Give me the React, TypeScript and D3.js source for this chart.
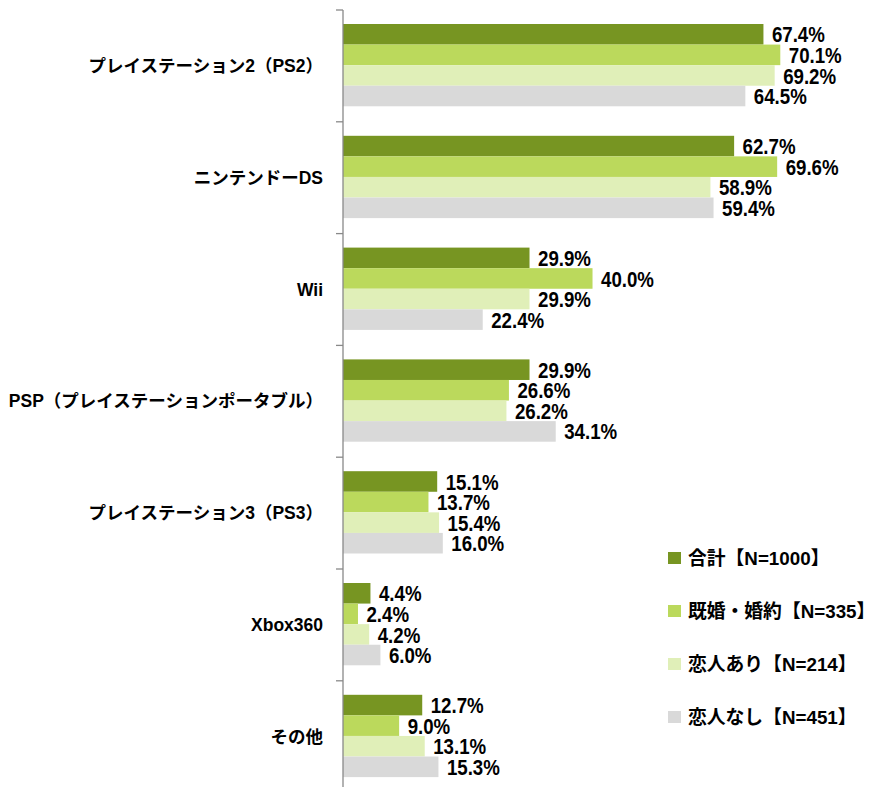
import React from "react";
import * as d3 from "d3";

const categories = [
  "プレイステーション2（PS2）",
  "ニンテンドーDS",
  "Wii",
  "PSP（プレイステーションポータブル）",
  "プレイステーション3（PS3）",
  "Xbox360",
  "その他",
];
const seriesNames = ["合計【N=1000】", "既婚・婚約【N=335】", "恋人あり【N=214】", "恋人なし【N=451】"];
const total = [67.4, 62.7, 29.9, 29.9, 15.1, 4.4, 12.7];
const married = [70.1, 69.6, 40.0, 26.6, 13.7, 2.4, 9.0];
const withPartner = [69.2, 58.9, 29.9, 26.2, 15.4, 4.2, 13.1];
const noPartner = [64.5, 59.4, 22.4, 34.1, 16.0, 6.0, 15.3];
const seriesValues = [total, married, withPartner, noPartner];
const colors = ["#779522", "#bbd95c", "#e0efb8", "#d9d9d9"];

const W = 874;
const H = 787;
const AXIS_X = 343;
const TOP = 10;
const STEP = 111.8;
const FONT = "'Liberation Sans', Arial, 'Noto Sans CJK JP', sans-serif";

export default function App() {
  const x = d3.scaleLinear().domain([0, 80]).range([AXIS_X, AXIS_X + 80 * 6.238]);
  const y = d3
    .scaleBand<string>()
    .domain(categories)
    .range([TOP, TOP + STEP * categories.length])
    .paddingInner(0)
    .paddingOuter(0);
  const inner = d3
    .scaleBand<string>()
    .domain(seriesNames)
    .range([14, STEP - 15.5])
    .padding(0);
  const sx = 0.83;
  const fmt = (v: number) => v.toFixed(1) + "%";

  return (
    <svg
      width={W}
      height={H}
      style={{ position: "absolute", left: 0, top: 0, background: "#fff" }}
    >
      {/* bars */}
      {categories.map((c, ci) => (
        <g key={c} transform={`translate(0,${y(c)})`}>
          {seriesNames.map((s, si) => {
            const v = seriesValues[si][ci];
            return (
              <rect
                key={s}
                x={x(0)}
                y={inner(s)}
                width={x(v) - x(0)}
                height={inner.bandwidth()}
                fill={colors[si]}
              />
            );
          })}
        </g>
      ))}
      {/* value labels */}
      {categories.map((c, ci) => (
        <g key={c + "l"} transform={`translate(0,${y(c)})`}>
          {seriesNames.map((s, si) => {
            const v = seriesValues[si][ci];
            const cy = (inner(s) as number) + inner.bandwidth() / 2;
            return (
              <text
                key={s}
                transform={`scale(${sx},1)`}
                x={(x(v) + 8.5) / sx}
                y={cy}
                dy="0.36em"
                fontFamily="'Liberation Sans', Arial, sans-serif"
                fontWeight="bold"
                fontSize={22.5}
                fill="#000"
              >
                {fmt(v)}
              </text>
            );
          })}
        </g>
      ))}
      {/* axis */}
      <line x1={AXIS_X} x2={AXIS_X} y1={TOP} y2={H} stroke="#898989" strokeWidth={1.3} />
      {d3.range(categories.length + 1).map((i) => (
        <line
          key={i}
          x1={AXIS_X - 7}
          x2={AXIS_X}
          y1={TOP + i * STEP}
          y2={TOP + i * STEP}
          stroke="#898989"
          strokeWidth={1.3}
        />
      ))}
      {/* category labels */}
      {categories.map((c) => (
        <text
          key={c + "c"}
          x={AXIS_X - 20}
          y={(y(c) as number) + y.bandwidth() / 2}
          dy="0.35em"
          textAnchor="end"
          fontFamily={FONT}
          fontWeight="bold"
          fontSize={17.5}
          fill="#000"
        >
          {c}
        </text>
      ))}
      {/* legend */}
      {seriesNames.map((s, si) => {
        const ly = 558 + si * 53;
        return (
          <g key={s + "lg"}>
            <rect x={668} y={ly - 6} width={13} height={12} fill={colors[si]} />
            <text
              x={688}
              y={ly}
              dy="0.35em"
              fontFamily={FONT}
              fontWeight="bold"
              fontSize={18.8}
              fill="#000"
            >
              {s}
            </text>
          </g>
        );
      })}
    </svg>
  );
}
